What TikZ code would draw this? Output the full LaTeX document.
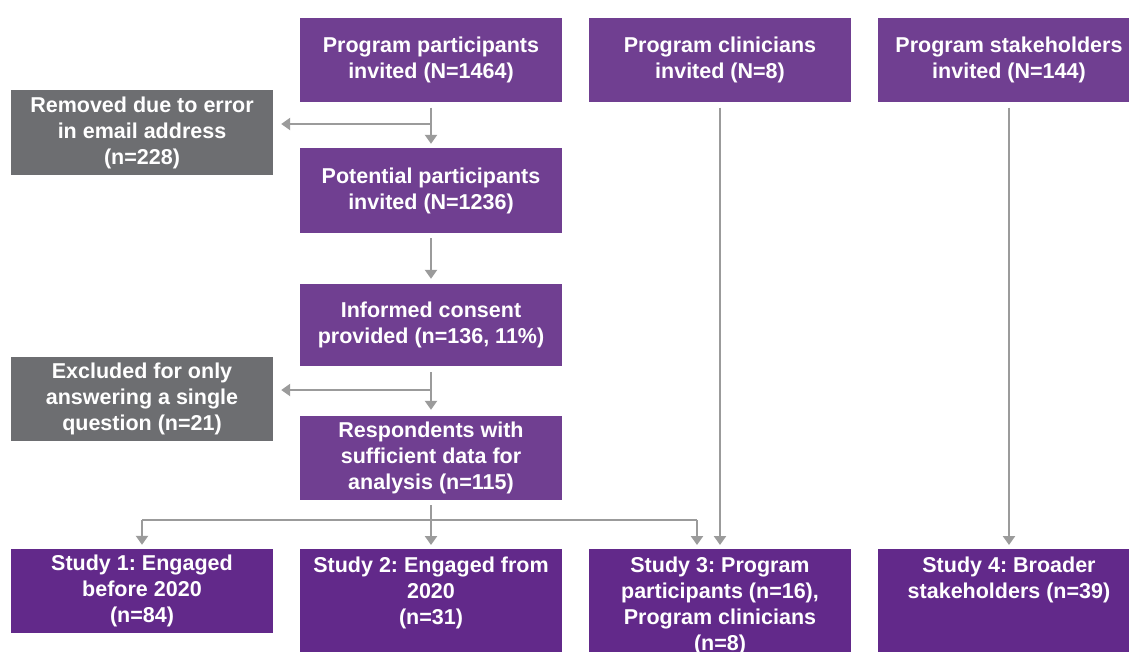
\documentclass[tikz,border=0pt]{standalone}
\usepackage{fontspec}
\setmainfont{Liberation Sans}
\usetikzlibrary{arrows.meta}
\definecolor{toppurple}{HTML}{703F91}
\definecolor{botpurple}{HTML}{62298A}
\definecolor{boxgray}{HTML}{6D6E71}
\definecolor{arrgray}{HTML}{9B9B9B}
\newcommand{\topaligned}[1]{\parbox[t][94pt][t]{258pt}{\centering #1}}
\frenchspacing
\begin{document}
\begin{tikzpicture}[x=1pt,y=-1pt,
  box/.style={inner sep=0pt, minimum width=262pt, minimum height=84pt,
    text=white, font=\fontsize{21.5}{26}\selectfont\bfseries, align=center},
  topbox/.style={box, fill=toppurple},
  graybox/.style={box, fill=boxgray},
  studybox/.style={box, fill=botpurple},
  tallbox/.style={box, fill=botpurple, minimum height=110pt, anchor=north, align=none},
  conn/.style={draw=arrgray, line width=2.4pt},
  arr/.style={conn, -{Triangle[width=12pt,length=9pt]}}
]
\clip (0,0) rectangle (1129,651);
\fill[white] (0,0) rectangle (1129,651);

\node[topbox] (A) at (431,59.5) {Program participants\\invited (N=1464)};
\node[topbox] (B) at (720,59.5) {Program clinicians\\invited (N=8)};
\node[topbox] (C) at (1009,59.5) {Program stakeholders\\invited (N=144)};
\node[graybox, minimum height=85pt] (R1) at (142,132.5) {Removed due to error\\in email address\\(n=228)};
\node[topbox, minimum height=85pt] (P) at (431,190.5) {Potential participants\\invited (N=1236)};
\node[topbox, minimum height=82pt] (I) at (431,325) {Informed consent\\provided (n=136, 11\%)};
\node[graybox] (R2) at (142,398.5) {Excluded for only\\answering a single\\question (n=21)};
\node[topbox] (S) at (431,458) {Respondents with\\sufficient data for\\analysis (n=115)};
\node[studybox] (S1) at (142,591) {Study 1: Engaged\\before 2020\\(n=84)};
\node[tallbox] (S2) at (431,549) {\topaligned{Study 2: Engaged from\\2020\\(n=31)}};
\node[tallbox] (S3) at (720,549) {\topaligned{Study 3: Program\\participants (n=16),\\Program clinicians\\(n=8)}};
\node[tallbox] (S4) at (1009,549) {\topaligned{Study 4: Broader\\stakeholders (n=39)}};

% junction points
\coordinate (j1) at (431,124);
\coordinate (j2) at (431,390);
\coordinate (j3) at (431,520);
\coordinate (k1) at (142,520);
\coordinate (k3) at (697,520);

\draw[arr, shorten <=6pt, shorten >=4pt] (A.south) -- (P.north);
\draw[arr, shorten >=8pt] (j1) -- (j1 -| R1.east);
\draw[arr, shorten <=5pt, shorten >=5pt] (P.south) -- (I.north);
\draw[arr, shorten <=6pt, shorten >=6pt] (I.south) -- (S.north);
\draw[arr, shorten >=8pt] (j2) -- (j2 -| R2.east);
\draw[conn, shorten <=5pt] (S.south) -- (j3);
\draw[conn] (k1) -- (k3);
\draw[arr, shorten >=4pt] (k1) -- (S1.north);
\draw[arr, shorten >=4pt] (j3) -- (S2.north);
\draw[arr, shorten >=4pt] (k3) -- (k3 |- S3.north);
\draw[arr, shorten <=6pt, shorten >=4pt] (B.south) -- (S3.north);
\draw[arr, shorten <=6pt, shorten >=4pt] (C.south) -- (S4.north);
\end{tikzpicture}
\end{document}
